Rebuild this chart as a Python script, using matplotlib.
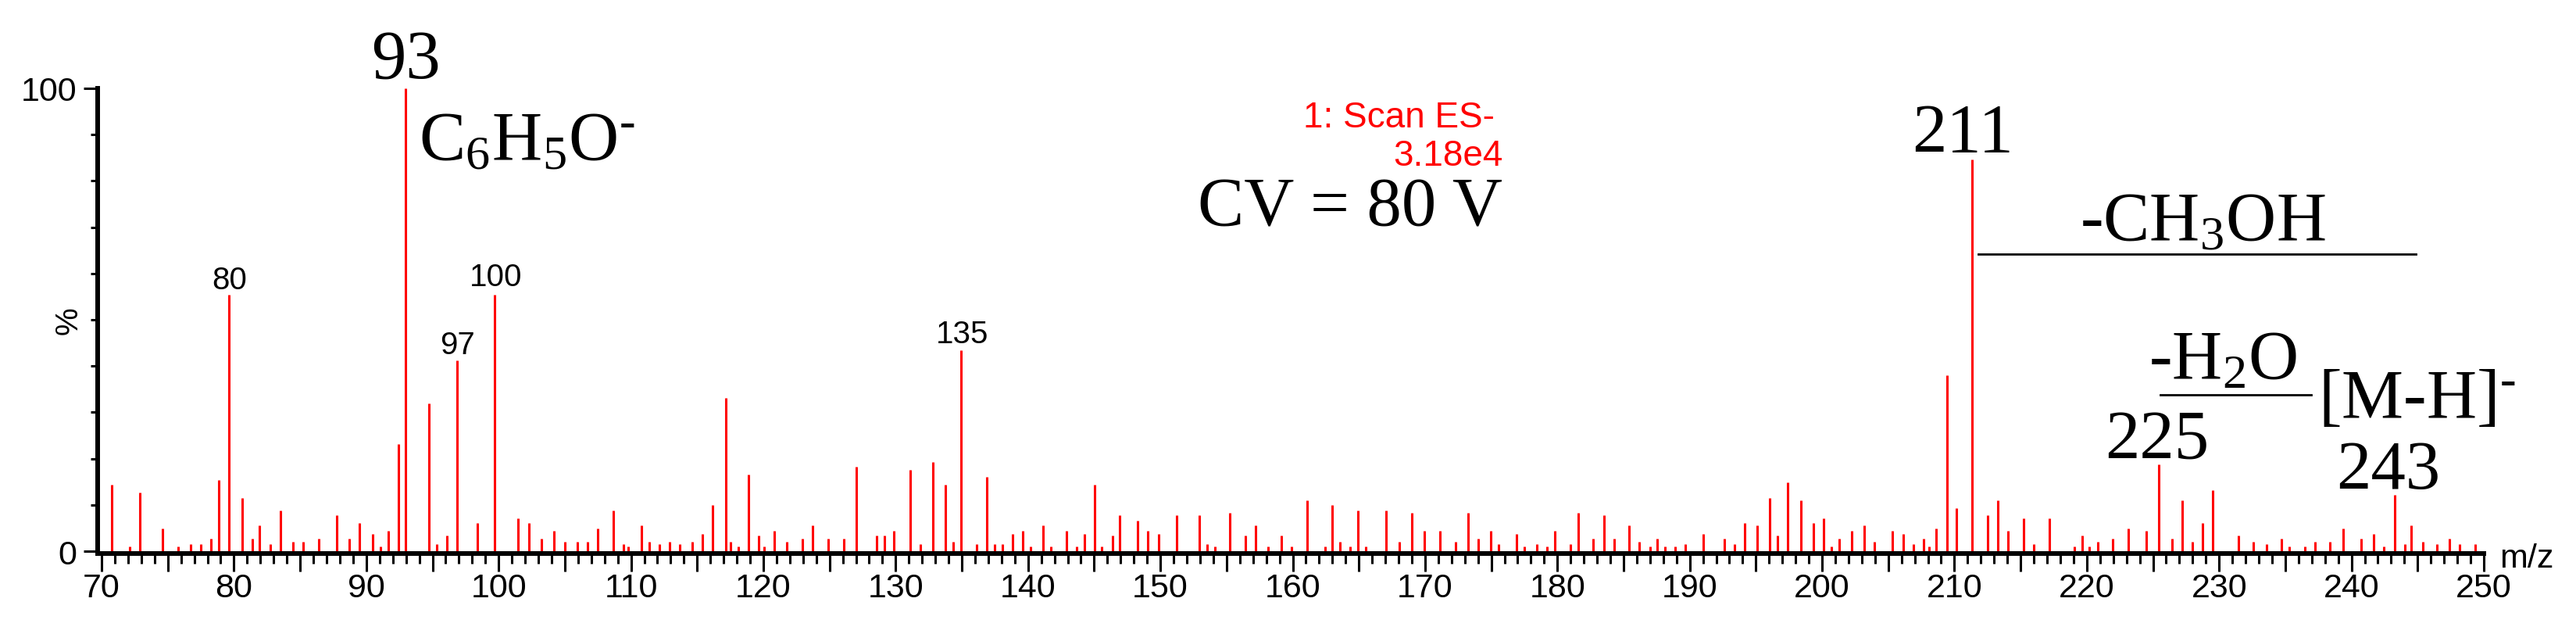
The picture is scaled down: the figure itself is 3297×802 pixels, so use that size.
import matplotlib
matplotlib.use("Agg")
import matplotlib.pyplot as plt
from matplotlib.ticker import MultipleLocator, FixedLocator, FuncFormatter

# =========================
# Spectrum data (m/z, relative intensity %)
# =========================
peak_mz = [
    70.75, 72.1, 72.87, 74.6, 75.77, 76.73, 77.5, 78.28, 78.87, 79.64,
    80.6, 81.37, 81.94, 82.73, 83.5, 84.46, 85.25, 86.41, 87.77, 88.73,
    89.5, 90.47, 91.05, 91.64, 92.41, 92.98, 94.73, 95.3, 96.09, 96.86,
    98.39, 99.72,
    101.48, 102.27, 103.24, 104.2, 104.99, 105.95, 106.72, 107.48, 108.65, 109.41,
    109.81, 110.77, 111.36, 112.13, 112.9, 113.68, 114.65, 115.41, 116.18, 117.17,
    117.54, 118.13, 118.9, 119.66, 120.06, 120.83, 121.79, 122.95, 123.72, 124.9,
    126.06, 127.02, 128.58, 129.15, 129.88,
    131.08, 131.85, 132.81, 133.77, 134.36, 134.93, 136.1, 136.88, 137.45, 138.04,
    138.81, 139.6, 140.17, 141.13, 141.72, 142.89, 143.65, 144.24, 145.01, 145.58,
    146.37, 146.94, 148.3, 149.06, 149.85, 151.21, 152.94, 153.53, 154.1, 155.26,
    156.42, 157.19, 158.15, 159.12,
    159.89, 161.07, 162.43, 163.0, 163.59, 164.35, 164.94, 165.51, 167.05, 168.03,
    169.0, 169.96, 171.12, 172.28, 173.25, 174.01, 174.98, 175.57, 176.93, 177.5,
    178.46, 179.23, 179.82, 180.98, 181.55, 182.71, 183.5, 184.27, 185.43, 186.19,
    186.98, 187.55, 188.14, 188.91, 189.67,
    191.03, 192.59, 193.36, 194.13, 195.09, 196.05, 196.64, 197.41, 198.38, 199.34,
    200.11, 200.7, 201.27, 202.25, 203.21, 203.98, 205.34, 206.13, 206.89, 207.66,
    208.06, 208.63, 209.42, 210.18, 211.34, 212.5, 213.27, 214.04, 215.2, 215.99,
    217.15, 219.08, 219.67, 220.2,
    220.81, 221.97, 223.13, 224.49, 225.45, 226.42, 227.2, 227.97, 228.74, 229.52,
    231.45, 232.61, 233.58, 234.74, 235.33, 236.47, 237.26, 238.4, 239.38, 240.74,
    241.7, 242.47, 243.26, 244.03, 244.53, 245.38, 246.47, 247.43, 248.2, 249.36,
]

peak_pct = [
    14.3, 1.0, 12.7, 4.9, 1.0, 1.6, 1.6, 2.7, 15.4, 55.4,
    11.5, 2.7, 5.5, 1.6, 8.8, 2.1, 2.1, 2.7, 7.7, 2.7,
    6.0, 3.8, 1.0, 4.4, 23.1, 100.0, 31.9, 1.6, 3.3, 41.2,
    6.0, 55.4,
    7.1, 6.0, 2.7, 4.4, 2.1, 2.1, 2.1, 4.9, 8.8, 1.6,
    1.0, 5.5, 2.1, 1.6, 2.1, 1.6, 2.1, 3.8, 9.9, 33.1,
    2.1, 1.0, 16.6, 3.3, 1.0, 4.4, 2.1, 2.7, 5.5, 2.7,
    2.7, 18.2, 3.3, 3.3, 4.4,
    17.6, 1.6, 19.3, 14.3, 2.1, 43.4, 1.6, 16.0, 1.6, 1.6,
    3.8, 4.4, 1.0, 5.5, 1.0, 4.4, 1.0, 3.8, 14.3, 1.0,
    3.3, 7.7, 6.6, 4.4, 3.8, 7.7, 7.7, 1.6, 1.0, 8.2,
    3.3, 5.5, 1.0, 3.3,
    1.0, 11.0, 1.0, 9.9, 2.1, 1.0, 8.8, 1.0, 8.8, 2.1,
    8.2, 4.4, 4.4, 2.1, 8.2, 2.7, 4.4, 1.6, 3.8, 1.0,
    1.6, 1.0, 4.4, 1.6, 8.2, 2.7, 7.7, 2.7, 5.5, 2.1,
    1.0, 2.7, 1.0, 1.0, 1.6,
    3.8, 2.7, 1.6, 6.0, 5.5, 11.5, 3.3, 14.9, 11.0, 6.0,
    7.1, 1.0, 2.7, 4.4, 5.5, 2.1, 4.4, 3.8, 1.6, 2.7,
    1.0, 4.9, 38.0, 9.3, 84.7, 7.7, 11.0, 4.4, 7.1, 1.6,
    7.1, 1.0, 3.3, 1.0,
    2.1, 2.7, 4.9, 4.4, 18.7, 2.7, 11.0, 2.1, 6.0, 13.2,
    3.3, 2.1, 1.6, 2.7, 1.0, 1.0, 2.1, 2.1, 4.9, 2.7,
    3.8, 1.0, 12.1, 1.6, 5.5, 2.1, 1.6, 2.7, 1.6, 1.6,
]

# small instrument labels above peaks
small_labels = ["80", "97", "100", "135"]
small_label_mz = [79.64, 96.86, 99.8, 135.05]
small_label_y = [56.8, 42.7, 57.4, 45.1]

# =========================
# Fonts
# =========================
SANS = "Liberation Sans"
SERIF = "Liberation Serif"
plt.rcParams["font.family"] = [SANS, "DejaVu Sans"]
plt.rcParams["mathtext.fontset"] = "custom"
plt.rcParams["mathtext.rm"] = SERIF
plt.rcParams["mathtext.it"] = SERIF + ":italic"
plt.rcParams["mathtext.bf"] = SERIF + ":bold"

# =========================
# Figure
# =========================
fig = plt.figure(figsize=(32.97, 8.03), dpi=100)
ax = fig.add_axes([0.0379, 0.1171, 0.9263, 0.7410])

ax.vlines(peak_mz, 0, peak_pct, color="red", lw=2.2)

ax.set_xlim(69.7, 250)
ax.set_ylim(-0.5, 100)

for side in ["top", "right"]:
    ax.spines[side].set_visible(False)
for side in ["left", "bottom"]:
    ax.spines[side].set_linewidth(4.3)

# x axis ticks: every unit, long every 5, labels every 10
ax.xaxis.set_major_locator(MultipleLocator(5))
ax.xaxis.set_minor_locator(MultipleLocator(1))
ax.xaxis.set_major_formatter(
    FuncFormatter(lambda v, p: f"{int(round(v))}" if round(v) % 10 == 0 else "")
)
ax.tick_params(axis="x", which="major", length=16.5, width=2.2, labelsize=31, pad=1)
ax.tick_params(axis="x", which="minor", length=9.4, width=2.2)

# y axis ticks: 0 and 100 labelled, minor every 10
ax.yaxis.set_major_locator(FixedLocator([0, 100]))
ax.yaxis.set_minor_locator(FixedLocator(list(range(10, 100, 10))))
ax.tick_params(axis="y", which="major", length=13, width=2.2, labelsize=31, pad=6)
ax.tick_params(axis="y", which="minor", length=6.5, width=2.2)

ax.text(67.5, 50, "%", rotation=90, ha="center", va="center", fontsize=29, clip_on=False)
ax.text(251.2, -3.4, "m/z", ha="left", va="baseline", fontsize=31, clip_on=False)

# =========================
# Annotations
# =========================
for lab, x, y in zip(small_labels, small_label_mz, small_label_y):
    ax.text(x, y, lab, ha="center", va="baseline", fontsize=29)

ax.text(175.25, 91.7, "1: Scan ES-", color="red", ha="right", va="baseline", fontsize=33)
ax.text(175.87, 83.4, "3.18e4", color="red", ha="right", va="baseline", fontsize=33)

big = dict(family=SERIF, fontsize=64, va="baseline", clip_on=False)
ax.text(92.98, 102.4, "93", ha="center", **big)
ax.text(93.97, 85.0, r"$\mathrm{C_6H_5O^{\text{-}}}$", ha="left", **big)
ax.text(152.8, 70.6, "CV = 80 V", ha="left", **big)
ax.text(210.6, 86.4, "211", ha="center", **big)
ax.text(219.5, 67.4, r"-$\mathrm{CH_3OH}$", ha="left", **big)
ax.plot([211.8, 244.85], [64.2, 64.2], color="black", lw=2)
ax.text(224.66, 37.4, r"-$\mathrm{H_2O}$", ha="left", **big)
ax.plot([225.55, 236.96], [33.7, 33.7], color="black", lw=2)
ax.text(237.5, 29.1, r"[M-H]$^{\text{-}}$", ha="left", **big)
ax.text(225.3, 20.3, "225", ha="center", **big)
ax.text(242.8, 13.7, "243", ha="center", **big)

fig.savefig("out.png", dpi=100)
